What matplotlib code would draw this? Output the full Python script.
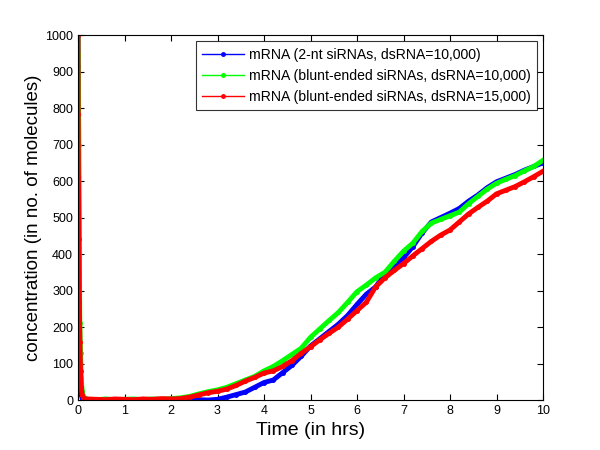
import matplotlib
matplotlib.use("Agg")
import matplotlib.pyplot as plt
from matplotlib.lines import Line2D

plt.rcParams['font.family'] = ['Liberation Sans', 'DejaVu Sans']

# initial spike (hours, molecules)
spike_t = [0.0, 0.005, 0.01, 0.02, 0.03, 0.04, 0.055, 0.07, 0.09, 0.12]
blue_spike = [1000, 915, 735, 350, 190, 95, 40, 15, 5, 2]
green_spike = [1000, 945, 850, 700, 390, 210, 130, 60, 25, 8]
red_spike = [1000, 785, 610, 440, 270, 160, 80, 35, 15, 4]

# slow phase sampled every 0.2 h
t = [0.2, 0.4, 0.6, 0.8, 1.0, 1.2, 1.4, 1.6, 1.8, 2.0,
     2.2, 2.4, 2.6, 2.8, 3.0, 3.2, 3.4, 3.6, 3.8, 4.0,
     4.2, 4.4, 4.6, 4.8, 5.0, 5.2, 5.4, 5.6, 5.8, 6.0,
     6.2, 6.4, 6.6, 6.8, 7.0, 7.2, 7.4, 7.6, 7.8, 8.0,
     8.2, 8.4, 8.6, 8.8, 9.0, 9.2, 9.4, 9.6, 9.8, 10.0]
blue = [1, 0, 2, 0, 1, 0, 2, 1, 0, 2,
        1, 0, 1, 0, 2, 8, 15, 22, 35, 48,
        55, 75, 95, 120, 148, 168, 188, 208, 232, 262,
        290, 310, 345, 365, 390, 420, 458, 488, 500, 512,
        525, 545, 562, 582, 598, 608, 618, 630, 640, 650]
green = [2, 1, 3, 1, 2, 3, 1, 3, 2, 4,
         6, 10, 17, 23, 28, 35, 45, 55, 65, 80,
         92, 108, 125, 142, 172, 195, 218, 240, 268, 297,
         315, 335, 350, 380, 408, 430, 462, 485, 495, 505,
         515, 538, 558, 578, 594, 605, 615, 628, 640, 657]
red = [3, 2, 1, 3, 2, 1, 3, 2, 4, 3,
       4, 8, 14, 20, 24, 30, 40, 52, 62, 74,
       80, 92, 108, 128, 146, 165, 183, 200, 222, 245,
       268, 310, 335, 355, 374, 395, 415, 435, 452, 466,
       488, 510, 528, 545, 565, 575, 585, 598, 612, 627]

labels = ['mRNA (2-nt siRNAs, dsRNA=10,000)',
          'mRNA (blunt-ended siRNAs, dsRNA=10,000)',
          'mRNA (blunt-ended siRNAs, dsRNA=15,000)']
colors = ['#0000ff', '#00ff00', '#ff0000']

fig = plt.figure(figsize=(6, 4.5), dpi=100)
ax = fig.add_axes([0.13, 0.111, 0.775, 0.811])

series = [(blue_spike, blue), (green_spike, green), (red_spike, red)]
for (sp, sl), c in zip(series, colors):
    ax.plot(spike_t + t, sp + sl, color=c, lw=3.5, marker='.', ms=5)

handles = [Line2D([0], [0], color=c, lw=1, marker='.', ms=5) for c in colors]
leg = ax.legend(handles, labels, loc='upper right', fontsize=10.1, frameon=True,
                fancybox=False, edgecolor='black', borderaxespad=0.45,
                handlelength=3.0, handletextpad=0.3, labelspacing=0.5,
                borderpad=0.45)
leg.get_frame().set_linewidth(0.8)

ax.set_xlim(0, 10)
ax.set_ylim(0, 1000)
ax.set_xticks(range(0, 11))
ax.set_yticks(range(0, 1001, 100))
ax.tick_params(direction='in', top=True, right=True, labelsize=9, length=4)
ax.set_xlabel('Time (in hrs)', fontsize=14, labelpad=4)
ax.set_ylabel('concentration (in no. of molecules)', fontsize=13.5, labelpad=2)
for s in ax.spines.values():
    s.set_linewidth(0.8)

fig.savefig('out.png', dpi=100)
